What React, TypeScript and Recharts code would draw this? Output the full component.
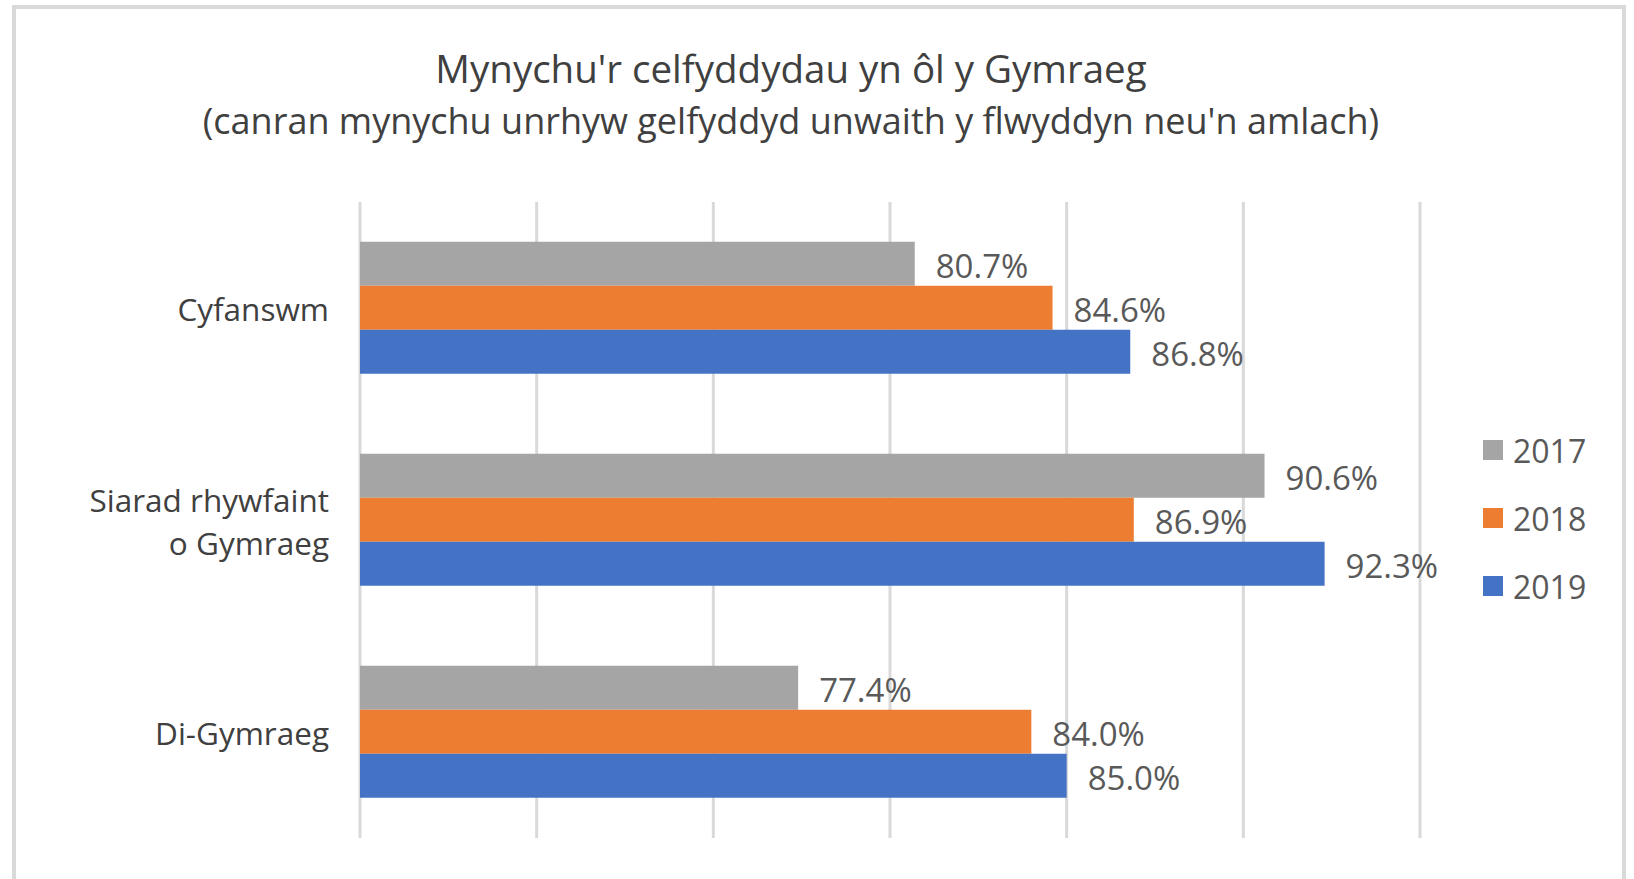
import React from 'react';
import {
  BarChart,
  Bar,
  XAxis,
  YAxis,
  CartesianGrid,
  Legend,
  LabelList,
} from 'recharts';

// categories (top to bottom)
const categories = ['Cyfanswm', 'Siarad rhywfaint\no Gymraeg', 'Di-Gymraeg'];

// series values, % attending any arts event once a year or more
const values2017 = [80.7, 90.6, 77.4];
const values2018 = [84.6, 86.9, 84.0];
const values2019 = [86.8, 92.3, 85.0];

const xTicks = [65, 70, 75, 80, 85, 90, 95];

const seriesDefs = [
  { key: 'y2017', name: '2017', color: '#A5A5A5' },
  { key: 'y2018', name: '2018', color: '#ED7D31' },
  { key: 'y2019', name: '2019', color: '#4472C4' },
];

const data = categories.map((name, i) => ({
  name,
  y2017: values2017[i],
  y2018: values2018[i],
  y2019: values2019[i],
}));

const FONT = '"Open Sans", "Noto Sans", sans-serif';
const TEXT = '#404040';
const LABEL = '#595959';
const LEGEND_W = 130;

const CategoryTick = (props: any) => {
  const { x, y, payload } = props;
  const lines = String(payload.value).split('\n');
  const lineH = 43;
  const start = y - ((lines.length - 1) * lineH) / 2;
  return (
    <text
      x={x}
      y={start}
      textAnchor="end"
      fill={TEXT}
      fontSize={31.5}
      fontFamily={FONT}
      dominantBaseline="central"
    >
      {lines.map((l, i) => (
        <tspan key={i} x={x} y={start + i * lineH} dominantBaseline="central">
          {l}
        </tspan>
      ))}
    </text>
  );
};

const renderLegend = (props: any) => {
  const { payload } = props;
  return (
    <div style={{ fontFamily: FONT }}>
      {(payload || []).map((entry: any) => (
        <div
          key={entry.value}
          style={{ display: 'flex', alignItems: 'center', height: 68 }}
        >
          <span
            style={{
              display: 'inline-block',
              width: 20,
              height: 20,
              background: entry.color,
              marginRight: 10,
            }}
          />
          <span style={{ fontSize: 32, color: LABEL }}>{entry.value}</span>
        </div>
      ))}
    </div>
  );
};

export default function App() {
  return (
    <div
      style={{
        position: 'absolute',
        left: 0,
        top: 0,
        width: 1634,
        height: 879,
        overflow: 'hidden',
        background: '#fff',
        fontFamily: FONT,
      }}
    >
      <div
        style={{
          position: 'absolute',
          left: 12,
          top: 5,
          width: 1606,
          height: 900,
          border: '4px solid #d9d9d9',
        }}
      />
      <div
        style={{
          position: 'absolute',
          left: 0,
          width: 1582,
          top: 42,
          textAlign: 'center',
          fontSize: 38.5,
          color: TEXT,
          lineHeight: '52px',
        }}
      >
        Mynychu'r celfyddydau yn ôl y Gymraeg
      </div>
      <div
        style={{
          position: 'absolute',
          left: 0,
          width: 1582,
          top: 96,
          textAlign: 'center',
          fontSize: 36,
          color: TEXT,
          lineHeight: '50px',
        }}
      >
        (canran mynychu unrhyw gelfyddyd unwaith y flwyddyn neu'n amlach)
      </div>
      <div style={{ position: 'absolute', left: 0, top: 0 }}>
        <BarChart
          width={1634}
          height={879}
          data={data}
          layout="vertical"
          margin={{ top: 202, right: 214 - LEGEND_W, bottom: 41, left: 0 }}
          barCategoryGap="18.75%"
          barGap={0}
        >
          <CartesianGrid
            horizontal={false}
            vertical
            stroke="#d9d9d9"
            strokeWidth={3}
          />
          <XAxis
            type="number"
            domain={[65, 95]}
            ticks={xTicks}
            hide
            allowDataOverflow
          />
          <YAxis
            type="category"
            dataKey="name"
            width={360}
            axisLine={false}
            tickLine={false}
            tickSize={0}
            tickMargin={31}
            interval={0}
            tick={<CategoryTick />}
          />
          <Legend
            layout="vertical"
            align="right"
            verticalAlign="top"
            content={renderLegend}
            wrapperStyle={{ left: 1483, top: 416, width: LEGEND_W }}
          />
          {seriesDefs.map((s) => (
            <Bar
              key={s.key}
              dataKey={s.key}
              name={s.name}
              fill={s.color}
              isAnimationActive={false}
            >
              <LabelList
                dataKey={s.key}
                position="right"
                offset={21}
                dy={3}
                fill={LABEL}
                fontSize={33}
                fontFamily={FONT}
                formatter={(v: any) => `${Number(v).toFixed(1)}%`}
              />
            </Bar>
          ))}
        </BarChart>
      </div>
    </div>
  );
}
